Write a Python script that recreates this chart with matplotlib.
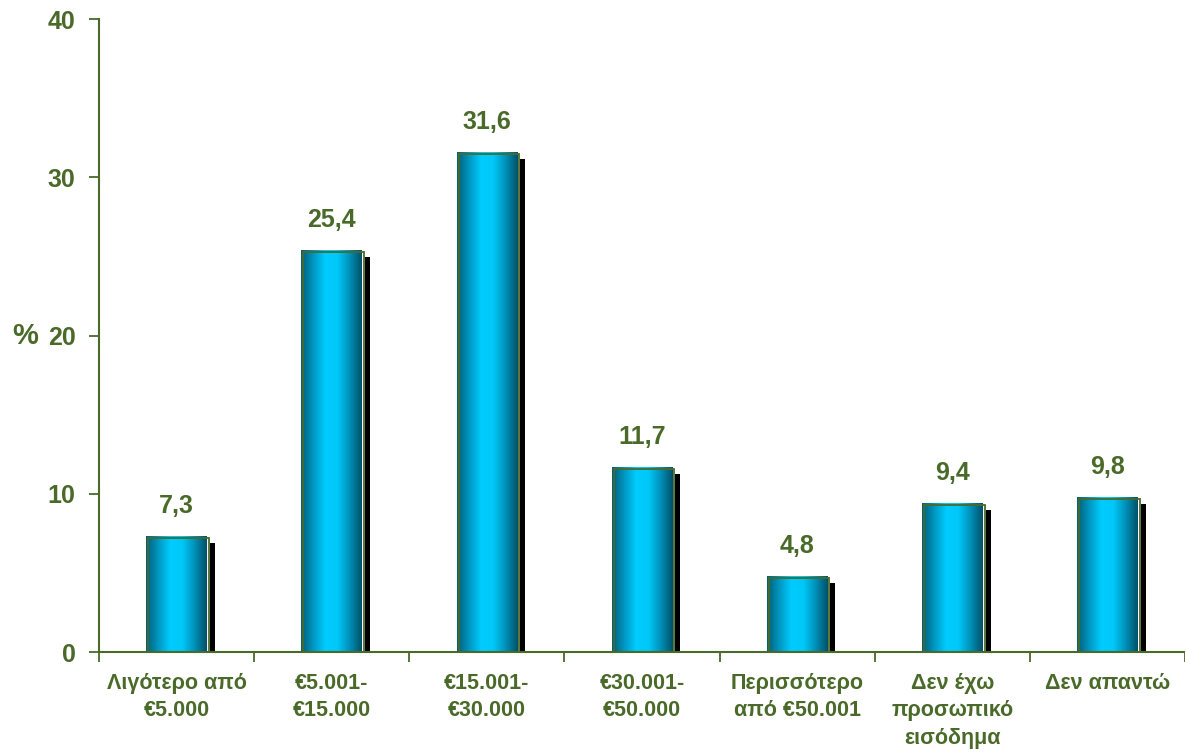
import numpy as np
import matplotlib.pyplot as plt
import matplotlib.transforms as mtransforms
from matplotlib.colors import LinearSegmentedColormap

plt.rcParams['font.family'] = ['Liberation Sans', 'DejaVu Sans']
plt.rcParams['font.weight'] = 'bold'

categories = ["Λιγότερο από\n€5.000", "€5.001-\n€15.000", "€15.001-\n€30.000",
              "€30.001-\n€50.000", "Περισσότερο\nαπό €50.001",
              "Δεν έχω\nπροσωπικό\nεισόδημα", "Δεν απαντώ"]
values = [7.3, 25.4, 31.6, 11.7, 4.8, 9.4, 9.8]
yticks = [0, 10, 20, 30, 40]

green = '#4A6A2A'

fig = plt.figure(figsize=(11.85, 7.55), dpi=100)
ax = fig.add_axes([99 / 1185, 103 / 755, 1 - 99 / 1185, 633 / 755])

x = np.arange(len(values))
bars = ax.bar(x, values, width=0.39, color='none', edgecolor='none', zorder=3)

# horizontal cylinder-like shading: dark teal edges, bright cyan toward the middle
cyl = LinearSegmentedColormap.from_list(
    'cyl', ['#005E78', '#0096C0', '#00CCFF', '#00C8F8', '#0090B8', '#005068'])
grad = np.linspace(0, 1, 256).reshape(1, -1)

for b in bars:
    x0, y0 = b.get_x(), b.get_y()
    w, h = b.get_width(), b.get_height()
    # black drop shadow
    sh = plt.Rectangle((x0, y0), w, h, facecolor='black', edgecolor='none', zorder=2,
                       transform=mtransforms.offset_copy(ax.transData, fig=fig, x=8, y=-7, units='dots'))
    ax.add_patch(sh)
    # white backing so the shadow only shows to the right
    bk = plt.Rectangle((x0, y0), w, h, facecolor='white', edgecolor='none', zorder=2.5,
                       transform=mtransforms.offset_copy(ax.transData, fig=fig, x=3, y=-2, units='dots'))
    ax.add_patch(bk)
    im = ax.imshow(grad, cmap=cyl, aspect='auto', extent=(x0, x0 + w, y0, y0 + h),
                   zorder=3, interpolation='bicubic')
    im.set_clip_path(b)
    # slightly offset outline frame
    fr = plt.Rectangle((x0, y0), w, h, facecolor='none', edgecolor=green, lw=1.3, zorder=4,
                       transform=mtransforms.offset_copy(ax.transData, fig=fig, x=2, y=-2, units='dots'))
    ax.add_patch(fr)
    ax.annotate(f"{h:.1f}".replace('.', ','), (x0 + w / 2, h), xytext=(0, 13),
                textcoords='offset points', ha='center', va='bottom',
                fontsize=18, fontweight='bold', color=green)

ax.set_xlim(-0.5, len(values) - 0.5)
ax.set_ylim(0, 40)
ax.set_yticks(yticks)
ax.set_xticks(x)
ax.set_xticklabels(categories, fontsize=15.5, fontweight='bold', color=green, linespacing=1.4)
ax.set_xticks(np.arange(len(values) + 1) - 0.5, minor=True)
ax.tick_params(axis='x', which='major', length=0, pad=15)
ax.tick_params(axis='x', which='minor', length=7, width=1.3, color=green, direction='out')
ax.tick_params(axis='y', length=7, width=1.3, color=green, direction='out', pad=10,
               labelsize=18, labelcolor=green)
for lbl in ax.get_yticklabels():
    lbl.set_fontweight('bold')

for s in ['top', 'right']:
    ax.spines[s].set_visible(False)
for s in ['left', 'bottom']:
    ax.spines[s].set_color(green)
    ax.spines[s].set_linewidth(1.5)
    ax.spines[s].set_zorder(5)

ax.set_ylabel('%', rotation=0, fontsize=21, fontweight='bold', color=green, labelpad=16, va='center')

fig.savefig('out.png', dpi=100)
